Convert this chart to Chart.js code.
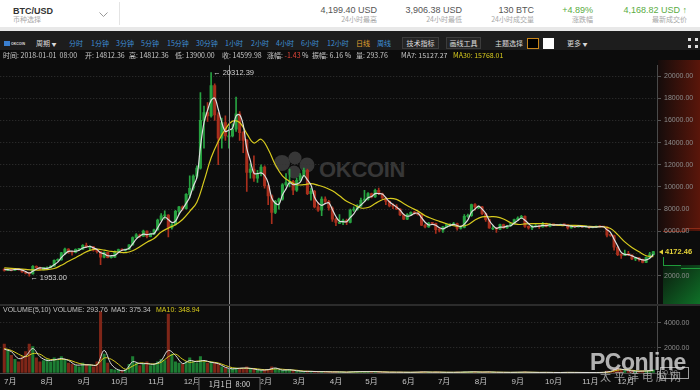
<!DOCTYPE html>
<html><head><meta charset="utf-8">
<script src="https://cdn.jsdelivr.net/npm/chart.js@4.4.1/dist/chart.umd.min.js"></script>
<style>
*{margin:0;padding:0;box-sizing:border-box}
body{width:700px;height:390px;overflow:hidden;background:#0c0c0c;position:relative;font-family:"Noto Sans CJK SC","Liberation Sans",sans-serif}
.a{position:absolute;white-space:nowrap;line-height:1}
.r{text-align:right}
.v{font-size:9px;color:#555;top:6px;font-family:"Liberation Sans","Noto Sans CJK SC",sans-serif}
.l{font-size:7px;color:#a8a8a8;top:16px}
.t{font-size:7px;top:40px;color:#3d8fd6}
.i{font-size:7px;top:51.5px;color:#c8c8c8}
.b{position:absolute;top:37px;height:12px;border:1px solid #3c3c3c;background:#242424;color:#ddd;font-size:7px;line-height:10px;text-align:center}
#c{position:absolute;left:0;top:58px;z-index:2}
.bg{position:absolute;z-index:0}
.ov{z-index:3}
</style></head><body>
<!-- header -->
<div class="bg" style="left:0;top:0;width:700px;height:27px;background:#fff"></div>
<div class="bg" style="left:0;top:27px;width:700px;height:4px;background:#e8e8e8"></div>
<div class="a" style="left:13px;top:6px;font:bold 9px 'Liberation Sans';color:#333">BTC/USD</div>
<div class="a l" style="left:13px">币种选择</div>
<svg class="a" style="left:99px;top:12px" width="9" height="6"><polyline points="0.5,0.5 4.5,4.5 8.5,0.5" fill="none" stroke="#999" stroke-width="1"/></svg>
<div class="bg" style="left:119px;top:2px;width:1px;height:23px;background:#e4e4e4"></div>
<div class="a v r" style="right:323px">4,199.40 USD</div><div class="a l r" style="right:323px">24小时最高</div>
<div class="a v r" style="right:238px">3,906.38 USD</div><div class="a l r" style="right:238px">24小时最低</div>
<div class="a v r" style="right:166px">130 BTC</div><div class="a l r" style="right:166px">24小时成交量</div>
<div class="a v r" style="right:107px;color:#5aac44">+4.89%</div><div class="a l r" style="right:107px">涨跌幅</div>
<div class="a v r" style="right:13px;color:#5aac44">4,168.82 USD ↑</div><div class="a l r" style="right:13px">最新成交价</div>
<!-- toolbar -->
<div class="bg" style="left:0;top:31px;width:700px;height:19px;background:#1d1d1d"></div>
<div class="bg" style="left:4px;top:41px;width:6px;height:5px;background:#3a7fd0"></div>
<div class="a" style="left:11px;top:42px;font:bold 3.5px 'Liberation Sans';color:#ddd">OKCOIN</div>
<div class="a t" style="left:36px;color:#d8d8d8">周期 <span style="font-size:5px">▼</span></div>
<div class="a t" style="left:69px">分时</div>
<div class="a t" style="left:91px">1分钟</div>
<div class="a t" style="left:116px">3分钟</div>
<div class="a t" style="left:141px">5分钟</div>
<div class="a t" style="left:167px">15分钟</div>
<div class="a t" style="left:196px">30分钟</div>
<div class="a t" style="left:225px">1小时</div>
<div class="a t" style="left:251px">2小时</div>
<div class="a t" style="left:276px">4小时</div>
<div class="a t" style="left:301px">6小时</div>
<div class="a t" style="left:327px">12小时</div>
<div class="a t" style="left:356px;color:#e0a030">日线</div>
<div class="a t" style="left:377px">周线</div>
<div class="b" style="left:402px;width:37px">技术指标</div>
<div class="b" style="left:446px;width:35px">画线工具</div>
<div class="a t" style="left:495px;color:#d8d8d8">主题选择</div>
<div class="bg" style="left:527px;top:38px;width:12px;height:11px;background:#000;border:1px solid #c8861c"></div>
<div class="bg" style="left:543px;top:38px;width:11px;height:11px;background:#fff"></div>
<div class="a t" style="left:567px;color:#d8d8d8">更多 <span style="font-size:5px">▼</span></div>
<svg class="a" style="left:688px;top:38px" width="10" height="10"><rect x="0" y="0" width="3" height="3" fill="#ddd"/><rect x="7" y="0" width="3" height="3" fill="#ddd"/><rect x="0" y="7" width="3" height="3" fill="#ddd"/><rect x="7" y="7" width="3" height="3" fill="#ddd"/></svg>
<!-- info row -->
<div class="a i ov" style="left:3px">时间: 2018-01-01&nbsp; 08:00</div>
<div class="a i ov" style="left:85px">开: 14812.36</div>
<div class="a i ov" style="left:129px">高: 14812.36</div>
<div class="a i ov" style="left:175px">低: 13900.00</div>
<div class="a i ov" style="left:222px">收: 14599.98</div>
<div class="a i ov" style="left:267px">涨幅: <span style="color:#e0463a">-1.43</span> %</div>
<div class="a i ov" style="left:312px">振幅: 6.16 %</div>
<div class="a i ov" style="left:356px">量: 293.76</div>
<div class="a i ov" style="left:401px">MA7: 15127.27</div>
<div class="a i ov" style="left:453px;color:#d8cb1e">MA30: 15768.01</div>
<!-- depth strip -->
<div class="bg" style="left:658px;top:60px;width:42px;height:171px;background:linear-gradient(to right,#150c0b,#5a160a)"></div>
<div class="bg" style="left:663px;top:231px;width:22px;height:1px;background:#8a2a16"></div>
<div class="bg" style="left:685px;top:228px;width:15px;height:1px;background:#8a2a16"></div>
<div class="bg" style="left:685px;top:228px;width:1px;height:4px;background:#8a2a16"></div>
<div class="bg" style="left:663px;top:252px;width:1px;height:13px;background:#1f9a3a"></div>
<div class="bg" style="left:663px;top:265px;width:37px;height:40px;background:linear-gradient(to bottom right,#0b1a0e,#0f7228)"></div>
<div class="bg" style="left:663px;top:265px;width:18px;height:1px;background:#1f9a3a"></div>
<div class="bg" style="left:681px;top:268px;width:19px;height:1px;background:#1f9a3a"></div>
<!-- OKCOIN watermark -->
<svg class="bg" style="left:272px;top:150px" width="46" height="30"><g fill="#373737"><circle cx="10" cy="13" r="8"/><circle cx="23" cy="8" r="6.5"/><circle cx="35" cy="15" r="7.5"/><circle cx="22" cy="22" r="6.5"/></g></svg>
<div class="a bg" style="left:319px;top:157px;font:bold 22px 'Liberation Sans';color:#373737;letter-spacing:-0.3px">OKCOIN</div>
<canvas id="c" width="700" height="332"></canvas>
<!-- panel separator and volume info -->
<div class="bg ov" style="left:0;top:304px;width:700px;height:2px;background:#2c2c2c"></div>
<div class="a ov" style="left:3px;top:306px;font-size:7px;color:#c0c0c0;font-family:'Liberation Sans'">VOLUME(5,10)</div>
<div class="a ov" style="left:53px;top:306px;font-size:7px;color:#c0c0c0;font-family:'Liberation Sans'">VOLUME: 293.76</div>
<div class="a ov" style="left:111px;top:306px;font-size:7px;color:#c0c0c0;font-family:'Liberation Sans'">MA5: 375.34</div>
<div class="a ov" style="left:156px;top:306px;font-size:7px;color:#d8cb1e;font-family:'Liberation Sans'">MA10: 348.94</div>
<!-- PConline watermark -->
<div class="a ov" style="left:590px;top:349px;font:bold 23px 'Liberation Sans';color:rgba(225,225,225,0.78);letter-spacing:-0.5px">PConline</div>
<div class="a ov" style="left:600px;top:371px;font-size:11px;color:rgba(215,215,215,0.7);letter-spacing:3px">太平洋电脑网</div>
<script>
// one candle per 3 days; day 0 = 2017-07-01, first candle 2017-06-26 (day -5)
const START_DAY = -5, STEP = 3;
const open = [
2590,2480,2560,2500,2610,2560,2330,2230,2150,2850,
2730,2550,2720,2720,2860,3380,3420,4050,4390,4140,
4100,4370,4390,4740,4600,4600,4330,4170,3670,4100,
3630,3670,4200,4360,4300,4370,4780,5440,5680,5570,
6010,5520,5760,6130,7020,7390,7460,6340,6600,7790,
8200,8030,9330,9880,10970,11700,16000,16700,16400,19140,
16500,14400,15800,14600,14600,15200,16600,14900,14200,11300,
11600,10800,11200,11800,10100,9200,7700,8700,8900,10200,
10400,10500,9700,10600,11000,11500,9400,9600,8200,7900,
8900,8700,8100,7100,6800,6800,7000,6800,7900,8000,
8300,8800,8900,9400,9100,9700,9400,9000,8700,8300,
8250,8000,7480,7100,7500,7700,7650,7500,6550,6400,
6750,6720,6150,6100,6400,6600,6600,6700,6250,6350,
7350,7400,8400,8200,8200,7600,7050,6300,6300,6200,
6600,6300,6500,6700,7050,7200,7350,6450,6300,6500,
6500,6400,6700,6440,6640,6590,6550,6620,6580,6300,
6500,6400,6480,6400,6410,6320,6380,6450,6400,6390,
5650,5620,4560,3900,3830,4020,3850,3500,3600,3450,
3200,3650,3900];
const high = [
2620,2610,2600,2650,2640,2580,2380,2300,2900,2880,
2780,2760,2800,2900,3420,3520,4100,4480,4450,4200,
4420,4420,4800,4950,4700,4650,4400,4200,4150,4120,
3780,4230,4400,4420,4400,4800,5500,5800,5750,6100,
6050,5850,6200,7100,7600,7850,7500,6700,7900,8250,
8300,9400,11000,11100,11900,18500,17300,17600,20312.39,19300,
16700,16200,16400,15400,15700,18100,16800,15000,14300,12100,
12800,11500,12000,11900,10200,9300,8800,9000,10300,11200,
11600,10600,10800,11200,11700,11600,9900,9700,8600,9100,
9100,8800,8200,7200,7500,7100,7100,8000,8200,8400,
9000,9700,9500,9450,9800,9900,9450,9050,8750,8500,
8400,8050,7550,7600,7750,7800,7700,7550,6650,6800,
6800,6750,6300,6450,6700,6700,6800,6750,6400,7500,
7550,8450,8500,8300,8250,7650,7100,6500,6350,6650,
6650,6550,6750,7100,7300,7450,7400,6500,6550,6600,
6550,6800,6750,6700,6650,6620,6650,6650,6600,6550,
6520,6500,6490,6450,6420,6420,6480,6500,6420,6400,
5700,5650,4650,4000,4300,4200,3900,3650,3650,3500,
3700,4100,4200];
const low = [
2400,2450,2420,2480,2500,2300,2150,1953,2140,2650,
2500,2520,2650,2700,2850,3300,3400,3900,4000,3850,
4080,4250,4350,4550,4300,4200,4050,3000,3600,3600,
3580,3650,4150,4250,4200,4350,4750,5400,5450,5550,
5400,5500,5700,6100,6950,7100,5500,6200,6550,7550,
7900,8000,9000,9700,10800,11600,13500,15900,16300,16000,
12000,13500,14200,13500,14500,15000,14200,13100,9600,10800,
10500,10400,11000,9900,8400,6700,7600,8000,8800,10100,
10000,9300,9600,10500,10900,9300,8800,8100,7800,7400,
8500,7900,6900,6500,6700,6600,6600,6750,7800,7900,
8200,8700,8800,9000,9050,9300,8950,8400,8200,8050,
7950,7400,7050,7050,7450,7550,7450,6500,6300,6350,
6600,5800,5950,5900,6350,6450,6550,6100,6200,6300,
7250,7350,7900,8050,7500,6900,6250,6150,5900,6150,
6250,6250,6450,6650,7000,7150,6350,6200,6150,6400,
6250,6380,6400,6400,6500,6500,6520,6500,6200,6280,
6380,6380,6380,6380,6250,6300,6350,6380,6350,5500,
5550,4300,3800,3550,3800,3800,3450,3350,3300,3150,
3180,3600,3850];
const close = [
2480,2560,2500,2610,2560,2330,2230,2150,2850,2730,
2550,2720,2720,2860,3380,3420,4050,4390,4140,4100,
4370,4390,4740,4600,4600,4330,4170,3670,4100,3630,
3670,4200,4360,4300,4370,4780,5440,5680,5570,6010,
5520,5760,6130,7020,7390,7460,6340,6600,7790,8200,
8030,9330,9880,10970,11700,16000,16700,16400,19140,16500,
14400,15800,14600,14600,15200,16600,14900,14200,11300,11600,
10800,11200,11800,10100,9200,7700,8700,8900,10200,10400,
10500,9700,10600,11000,11500,9400,9600,8200,7900,8900,
8700,8100,7100,6800,6800,7000,6800,7900,8000,8300,
8800,8900,9400,9100,9700,9400,9000,8700,8300,8250,
8000,7480,7100,7500,7700,7650,7500,6550,6400,6750,
6720,6150,6100,6400,6600,6600,6700,6250,6350,7350,
7400,8400,8200,8200,7600,7050,6300,6300,6200,6600,
6300,6500,6700,7050,7200,7350,6450,6300,6500,6500,
6400,6700,6440,6640,6590,6550,6620,6580,6300,6500,
6400,6480,6400,6410,6320,6380,6450,6400,6390,5650,
5620,4560,3900,3830,4020,3850,3500,3600,3450,3200,
3650,3900,4172.46];
const ma7 = [
2560,2540,2510,2560,2560,2500,2370,2240,2410,2580,
2710,2670,2660,2770,2990,3220,3620,3950,4190,4210,
4200,4290,4500,4580,4650,4510,4370,4060,3980,3800,
3800,3830,4080,4290,4340,4480,4860,5300,5560,5750,
5700,5760,5800,6300,6850,7290,7060,6800,6910,7530,
8010,8520,9080,10060,10850,13600,15800,16900,17800,18000,
17000,15800,15000,15130,15300,16400,16500,15600,13470,12370,
11230,11200,11270,11030,10370,9000,8530,8430,9270,9830,
10370,10200,10270,10430,11030,10630,10170,9070,8570,8330,
8500,8570,7970,7330,6900,6870,6870,7230,7570,8070,
8370,8670,9030,9130,9400,9400,9370,9030,8670,8420,
8180,7910,7530,7360,7430,7620,7620,7230,6820,6570,
6620,6540,6320,6220,6370,6530,6630,6520,6430,6650,
7030,7720,8000,8270,8000,7620,6980,6550,6270,6370,
6370,6470,6500,6750,6980,7200,7000,6700,6420,6430,
6470,6530,6510,6590,6560,6590,6590,6580,6500,6460,
6400,6460,6430,6430,6380,6370,6380,6410,6410,6150,
5890,5280,4690,4100,3920,3900,3790,3650,3520,3420,
3430,3580,3910];
// MA30 read every 2nd candle (every 6 days)
const ma30 = [
2700,2650,2610,2560,2520,2510,2545,2650,2940,3300,
3615,3985,4280,4385,4305,4190,4135,4080,4250,4600,
5020,5355,5930,6290,6600,7070,7800,8630,10520,12630,
14100,15220,15930,15810,14810,13960,14300,13400,12000,11000,
10500,10200,10200,10300,10150,9950,9650,9200,8700,8400,
8100,8150,8500,8850,8960,8875,8500,8140,7820,7410,
7135,6900,6680,6500,6460,6590,7025,7305,7310,7300,
7115,6775,6620,6665,6695,6695,6690,6590,6525,6530,
6530,6505,6455,6420,6410,6250,5700,5050,4550,4150,
3800,3720];
const volume = [
2300,1800,1400,1100,900,1300,1700,2300,2100,1200,
900,1000,1100,900,1200,1000,1300,1100,800,700,
600,500,800,700,600,500,900,4900,1500,800,
300,250,250,200,250,700,1300,800,600,700,
900,600,700,900,1100,1000,4700,1500,900,800,
700,900,1200,900,800,1300,900,800,900,800,
700,500,400,300,350,400,350,300,500,350,
300,250,200,250,300,500,350,250,200,250,
300,200,150,120,120,150,120,100,100,120,
100,80,90,100,80,70,60,90,90,100,
110,120,100,110,120,90,80,70,60,70,
60,70,60,50,60,50,50,110,80,60,
50,90,70,60,50,50,50,70,50,90,
70,110,80,60,70,80,90,70,60,60,
50,50,50,60,60,60,90,60,50,50,
40,60,50,40,40,40,40,40,60,50,
40,40,40,40,40,40,40,40,40,150,
120,300,400,250,200,150,180,150,120,150,
200,180,250];
// volume MAs read every 2nd candle
const volMa5 = [
1900,1700,1150,1350,1950,1300,1000,1050,1150,1000,
650,650,650,650,1800,700,250,230,900,750,
750,700,1000,1800,1400,750,1000,900,1000,850,
750,450,330,380,400,320,230,270,400,230,
260,180,125,130,105,105,85,85,65,95,
110,105,110,80,65,65,60,55,70,85,
65,70,55,55,65,80,90,70,85,60,
55,50,60,70,55,45,50,40,40,50,
45,40,40,40,50,130,330,250,170,140,
170,210];
const volMa10 = [
1950,1800,1500,1300,1550,1500,1150,1050,1100,1050,
850,700,650,650,1200,1100,700,300,550,800,
750,720,850,1300,1500,1100,850,950,950,880,
800,600,420,370,380,360,290,260,330,300,
250,220,150,130,115,105,95,88,75,85,
100,105,108,95,75,68,62,58,62,75,
75,68,62,56,60,72,85,80,78,72,
58,52,56,64,62,50,48,45,40,45,
47,43,40,40,45,90,230,280,220,160,
155,190];
const monthDays = [0,31,62,92,123,153,184,215,243,274,304,335,365,396,427,457,488,518];
const monthLabels = ['7月','8月','9月','10月','11月','12月','1月','2月','3月','4月','5月','6月','7月','8月','9月','10月','11月','12月'];
const priceTicks = [2000,4000,6000,8000,10000,12000,14000,16000,18000,20000];
const volTicks = [0,1000,2000,3000,4000];
const CROSS_DAY = 184, CROSS_LABEL = '1月1日  8:00';

const dayOf = i => START_DAY + STEP * i;
const UP='#27a341', DOWN='#a92f1d', VUP='#1d7d33', VDOWN='#7f2618';
const isUp = close.map((c,i)=> c >= open[i]);
const cCol = isUp.map(u=>u?UP:DOWN), vCol = isUp.map(u=>u?VUP:VDOWN);

Chart.defaults.font.family = '"Liberation Sans","Noto Sans CJK SC",sans-serif';

const marks = {
  id:'marks',
  afterDraw(chart){
    const {ctx, chartArea:a, scales:{x,y,yv}} = chart;
    ctx.save();
    const cx = Math.round(x.getPixelForValue(CROSS_DAY)) + 0.5;
    ctx.strokeStyle='#8f8f8f'; ctx.lineWidth=1;
    ctx.beginPath(); ctx.moveTo(cx, a.top); ctx.lineTo(cx, a.bottom+4); ctx.stroke();
    ctx.fillStyle='#0c0c0c'; ctx.fillRect(cx-31, a.bottom+4, 62, 14);
    ctx.strokeStyle='#6a6a6a'; ctx.strokeRect(cx-30.5, a.bottom+4.5, 61, 13);
    ctx.fillStyle='#dcdcdc'; ctx.font='7.5px "Noto Sans CJK SC"'; ctx.textAlign='center'; ctx.textBaseline='middle';
    ctx.fillText(CROSS_LABEL, cx, a.bottom+11);
    // extremes
    let hi=0, lo=0;
    high.forEach((v,i)=>{ if(v>high[hi]) hi=i; });
    low.forEach((v,i)=>{ if(v<low[lo]) lo=i; });
    ctx.font='7.5px "Liberation Sans"'; ctx.fillStyle='#d4d4d4'; ctx.textAlign='left';
    ctx.fillText('\u2190 '+high[hi].toFixed(2), x.getPixelForValue(dayOf(hi))+2, y.getPixelForValue(high[hi]));
    ctx.fillText('\u2190 '+low[lo].toFixed(2), x.getPixelForValue(dayOf(lo))+1, y.getPixelForValue(low[lo])+1.5);
    // last price
    const last = close.length-1, ly = Math.round(y.getPixelForValue(close[last]));
    ctx.fillStyle='#0c0c0c'; ctx.fillRect(a.right+1, ly-5, 40, 10);
    ctx.fillStyle='#e6d43a';
    ctx.beginPath(); ctx.moveTo(a.right+2, ly); ctx.lineTo(a.right+6, ly-2.5); ctx.lineTo(a.right+6, ly+2.5); ctx.closePath(); ctx.fill();
    ctx.font='bold 7.5px "Liberation Sans"'; ctx.fillText(close[last].toFixed(2), a.right+8, ly);
    // volume zero box
    const v0 = yv.getPixelForValue(0);
    ctx.strokeStyle='#a0a0a0'; ctx.strokeRect(a.right+3.5, v0-5.5, 28, 11);
    ctx.restore();
  }
};

const yTickCommon = {color:'#8c8c8c', padding:3, font:{size:7}, callback:v=>Number(v).toFixed(2)};
new Chart(document.getElementById('c'), {
  type:'bar',
  data:{datasets:[
    {type:'line', data:ma7.map((v,i)=>({x:dayOf(i),y:v})), yAxisID:'y', borderColor:'#dedede', borderWidth:1.2, pointRadius:0, tension:0.35, order:0},
    {type:'line', data:ma30.map((v,k)=>({x:dayOf(2*k),y:v})), yAxisID:'y', borderColor:'#d8cb1e', borderWidth:1.2, pointRadius:0, tension:0.4, order:0},
    {type:'line', data:volMa5.map((v,k)=>({x:dayOf(2*k),y:v})), yAxisID:'yv', borderColor:'#dedede', borderWidth:1, pointRadius:0, tension:0.35, order:0},
    {type:'line', data:volMa10.map((v,k)=>({x:dayOf(2*k),y:v})), yAxisID:'yv', borderColor:'#d8cb1e', borderWidth:1, pointRadius:0, tension:0.35, order:0},
    {data:open.map((o,i)=>({x:dayOf(i),y:[o,close[i]]})), yAxisID:'y', backgroundColor:cCol, barThickness:2.4, minBarLength:1, grouped:false, order:1},
    {data:low.map((l,i)=>({x:dayOf(i),y:[l,high[i]]})), yAxisID:'y', backgroundColor:cCol, barThickness:1, grouped:false, order:2},
    {data:volume.map((v,i)=>({x:dayOf(i),y:v})), yAxisID:'yv', backgroundColor:vCol, barThickness:2.4, grouped:false, order:2}
  ]},
  options:{
    responsive:false, animation:false, devicePixelRatio:1, events:[],
    layout:{padding:{top:2,left:0,right:0,bottom:0}},
    plugins:{legend:{display:false}, tooltip:{enabled:false}},
    scales:{
      x:{type:'linear', min:-8.4, max:544.1, offset:false,
         grid:{display:false, drawTicks:false, offset:false}, border:{display:true, color:'#4a4a4a'},
         afterBuildTicks:s=>{s.ticks = monthDays.map(v=>({value:v}));},
         afterFit:s=>{s.height=17;},
         ticks:{autoSkip:false, maxRotation:0, padding:4, color:'#c4c4c4', font:{size:8}, callback:(v,i)=>monthLabels[i]}},
      y:{position:'right', stack:'k', stackWeight:245, min:-745, max:20975,
         afterBuildTicks:s=>{s.ticks = priceTicks.map(v=>({value:v}));},
         afterFit:s=>{s.width=43;},
         grid:{color:'#343434', tickLength:4, tickColor:'#555'}, border:{color:'#4a4a4a', dash:[1,2]},
         ticks:yTickCommon},
      yv:{position:'right', stack:'k', stackWeight:68, min:0, max:5333,
         afterBuildTicks:s=>{s.ticks = volTicks.map(v=>({value:v}));},
         afterFit:s=>{s.width=43;},
         grid:{color:'#343434', tickLength:4, tickColor:'#555'}, border:{color:'#4a4a4a', dash:[1,2]},
         ticks:yTickCommon}
    }
  },
  plugins:[marks]
});
</script>
</body></html>
